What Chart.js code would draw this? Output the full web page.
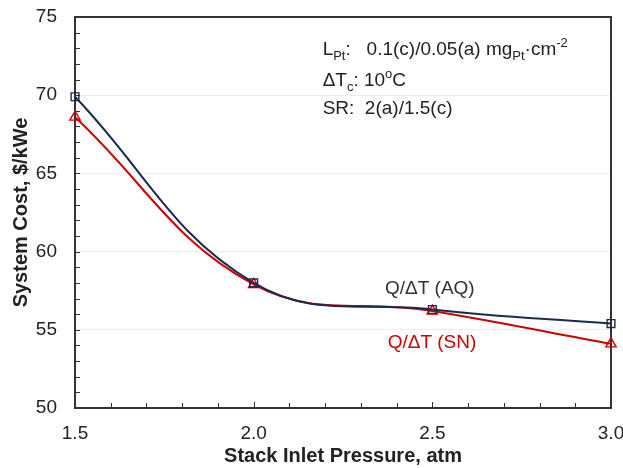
<!DOCTYPE html>
<html>
<head>
<meta charset="utf-8">
<script src="https://cdn.jsdelivr.net/npm/chart.js@4/dist/chart.umd.min.js"></script>
<style>
  html, body { margin: 0; padding: 0; background: #fff; }
  #wrap { width: 623px; height: 468px; }
</style>
</head>
<body>
<div id="wrap"><canvas id="costChart" width="623" height="468"></canvas></div>
<script>
// Stack inlet pressure (atm) vs system cost ($/kWe)
const pressures = [1.5, 2.0, 2.5, 3.0];
const costAQ = [69.9, 58.0, 56.3, 55.4];
const costSN = [68.6, 57.9, 56.2, 54.1];
const xTickValues = [1.5, 2.0, 2.5, 3.0];
const yTickValues = [50, 55, 60, 65, 70, 75];

const FONT = "'Liberation Sans', Arial, sans-serif";
const NAVY = '#1b2b4b';
const RED = '#cc0000';

// Text runs: [text, 'n' | 'sub' | 'sup']
const noteLines = [
  { x: 2.193, y: 72.55, runs: [['L', 'n'], ['Pt', 'sub'], [':   0.1(c)/0.05(a) mg', 'n'], ['Pt', 'sub'], ['\u00b7cm', 'n'], ['-2', 'sup']] },
  { x: 2.193, y: 70.62, runs: [['\u0394T', 'n'], ['c', 'sub'], [': 10', 'n'], ['o', 'sup'], ['C', 'n']] },
  { x: 2.193, y: 68.8, runs: [['SR:  2(a)/1.5(c)', 'n']] }
];
const seriesLabels = [
  { x: 2.493, y: 57.6, text: 'Q/\u0394T (AQ)', color: '#333333' },
  { x: 2.499, y: 54.16, text: 'Q/\u0394T (SN)', color: RED }
];

const frameAndTicks = {
  id: 'frameAndTicks',
  beforeDatasetsDraw(chart) {
    const { ctx, chartArea: a, scales: { x, y } } = chart;
    ctx.save();
    ctx.strokeStyle = '#333';
    ctx.lineWidth = 1;
    ctx.beginPath();
    for (let v = 51; v < 75; v++) {
      const py = Math.round(y.getPixelForValue(v)) + 0.5;
      ctx.moveTo(a.left, py);
      ctx.lineTo(a.left + 5, py);
    }
    for (let i = 16; i < 30; i++) {
      const px = Math.round(x.getPixelForValue(i / 10)) + 0.5;
      const len = i % 5 === 0 ? 6 : 5;
      ctx.moveTo(px, a.bottom);
      ctx.lineTo(px, a.bottom - len);
    }
    ctx.stroke();
    ctx.lineWidth = 2;
    ctx.strokeRect(a.left, a.top, a.right - a.left, a.bottom - a.top);
    ctx.restore();
  }
};

const annotations = {
  id: 'annotations',
  afterDraw(chart) {
    const { ctx, scales: { x, y } } = chart;
    ctx.save();
    ctx.textBaseline = 'alphabetic';
    ctx.fillStyle = '#222';
    noteLines.forEach(line => {
      let px = x.getPixelForValue(line.x);
      const base = y.getPixelForValue(line.y);
      line.runs.forEach(([text, kind]) => {
        const size = kind === 'n' ? 19 : 13;
        const shift = kind === 'sub' ? 5 : kind === 'sup' ? -8 : 0;
        ctx.font = `${size}px ${FONT}`;
        ctx.fillText(text, px, base + shift);
        px += ctx.measureText(text).width;
      });
    });
    ctx.font = `19px ${FONT}`;
    ctx.textAlign = 'center';
    ctx.textBaseline = 'middle';
    seriesLabels.forEach(l => {
      ctx.fillStyle = l.color;
      ctx.fillText(l.text, x.getPixelForValue(l.x), y.getPixelForValue(l.y));
    });
    ctx.restore();
  }
};

function lineDataset(label, values, color, shape, radius) {
  return {
    label,
    data: pressures.map((p, i) => ({ x: p, y: values[i] })),
    borderColor: color,
    borderWidth: 2,
    tension: 0.4,
    clip: false,
    pointStyle: shape,
    pointRadius: radius,
    pointBorderWidth: 1.4,
    pointBackgroundColor: 'rgba(0,0,0,0)',
    pointBorderColor: color
  };
}

function buildChart() {
  const ctx = document.getElementById('costChart').getContext('2d');
  new Chart(ctx, {
    type: 'line',
    data: {
      datasets: [
        lineDataset('Q/\u0394T (AQ)', costAQ, NAVY, 'rect', 5.5),
        lineDataset('Q/\u0394T (SN)', costSN, RED, 'triangle', 6)
      ]
    },
    options: {
      responsive: false,
      animation: false,
      layout: { padding: { top: 17, right: 12, left: 0, bottom: 0 } },
      plugins: { legend: { display: false }, tooltip: { enabled: false } },
      scales: {
        x: {
          type: 'linear',
          min: 1.5, max: 3.0,
          afterBuildTicks: s => { s.ticks = xTickValues.map(v => ({ value: v })); },
          afterFit: s => { s.height = 60; s.paddingLeft = 0; s.paddingRight = 0; },
          grid: { display: false, drawTicks: false },
          border: { display: false },
          ticks: {
            padding: 14, color: '#222', maxRotation: 0,
            font: { family: FONT, size: 19 },
            callback: v => Number(v).toFixed(1)
          },
          title: {
            display: true, text: 'Stack Inlet Pressure, atm', color: '#222',
            font: { family: FONT, size: 20, weight: 'bold' }, padding: { top: 0, bottom: 0 }
          }
        },
        y: {
          min: 50, max: 75,
          afterBuildTicks: s => { s.ticks = yTickValues.map(v => ({ value: v })); },
          afterFit: s => { s.width = 75; s.paddingTop = 0; s.paddingBottom = 0; },
          grid: { color: 'rgba(0,0,0,0.07)', drawTicks: false },
          border: { display: false },
          ticks: { padding: 18, color: '#222', font: { family: FONT, size: 19 } },
          title: {
            display: true, text: 'System Cost, $/kWe', color: '#222',
            font: { family: FONT, size: 20, weight: 'bold' }, padding: { top: 9, bottom: 0 }
          }
        }
      }
    },
    plugins: [frameAndTicks, annotations]
  });
}

buildChart();
</script>
</body>
</html>
